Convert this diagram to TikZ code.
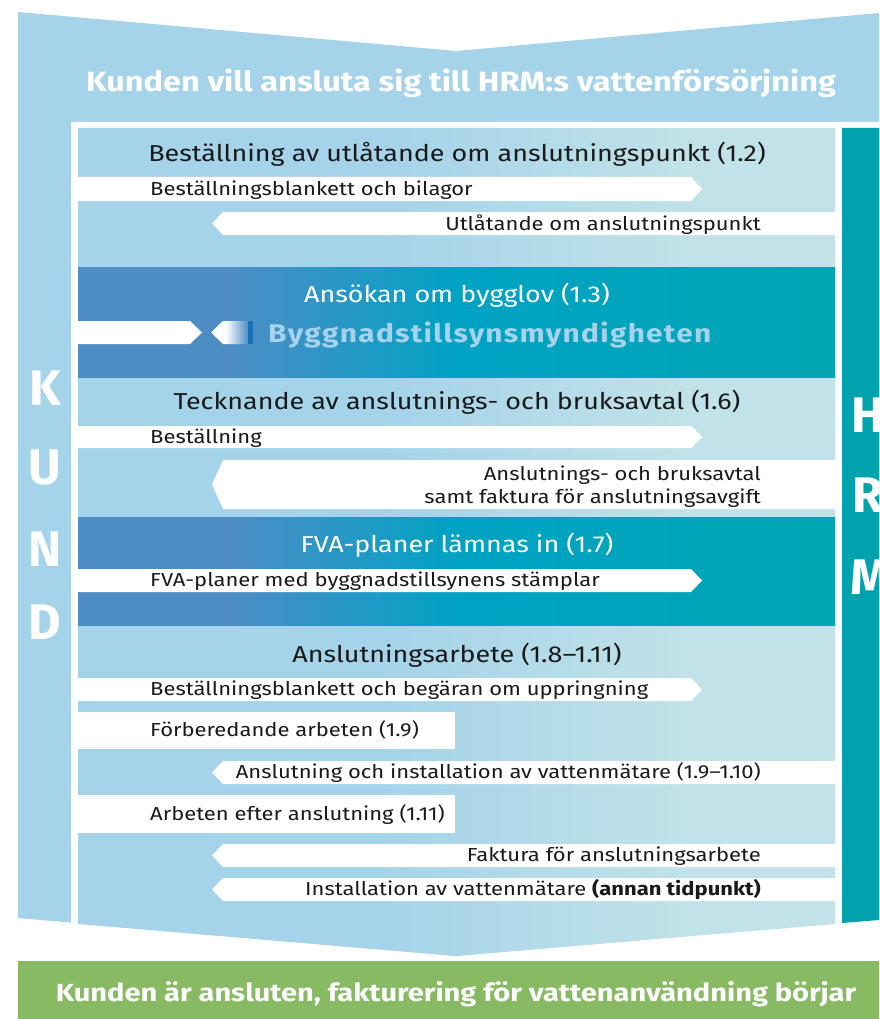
\documentclass[tikz,border=0pt]{standalone}
\usepackage{fontspec}
\setmainfont{Fira Sans}[FakeStretch=1.17]
\newfontfamily\agencyfont{Fira Sans}[LetterSpace=5.0, FakeStretch=1.17]
\newfontfamily\letterfont{Fira Sans}
\usetikzlibrary{positioning}

\definecolor{kundBlue}{HTML}{A5D3EA}
\definecolor{paleCyan}{HTML}{C0E2E8}
\definecolor{deepBlue}{HTML}{4F8DC6}
\definecolor{midTeal}{HTML}{00A2C4}
\definecolor{sectTeal}{HTML}{00A6B3}
\definecolor{hrmTeal}{HTML}{00A2AD}
\definecolor{doneGreen}{HTML}{87BA62}
\definecolor{barBlue}{HTML}{1B6FB2}
\definecolor{agencyBlue}{HTML}{A6D2EC}
\definecolor{titleInk}{HTML}{1A1A1A}

\pgfdeclarehorizontalshading{paleShade}{100bp}{color(0bp)=(kundBlue); color(25bp)=(kundBlue); color(45bp)=(kundBlue); color(65bp)=(paleCyan); color(100bp)=(paleCyan)}
\pgfdeclarehorizontalshading{deepShade}{100bp}{color(0bp)=(deepBlue); color(25bp)=(deepBlue); color(35bp)=(deepBlue); color(50bp)=(midTeal); color(75bp)=(sectTeal); color(100bp)=(sectTeal)}
\pgfdeclarehorizontalshading{fadeShade}{100bp}{color(0bp)=(white); color(45bp)=(white); color(75bp)=(deepBlue); color(100bp)=(deepBlue)}

\tikzstyle{band} = [fill=white]
\tikzstyle{title} = [anchor=base, inner sep=0pt, text=titleInk, font=\fontsize{23}{26}\selectfont]
\tikzstyle{darkTitle} = [title, text=white]
\tikzstyle{msgLeft} = [anchor=base west, inner sep=0pt, text=titleInk, font=\fontsize{18.8}{23}\selectfont]
\tikzstyle{msgRight} = [anchor=base east, inner sep=0pt, text=titleInk, font=\fontsize{18.8}{23}\selectfont]
\tikzstyle{bigLetter} = [inner sep=0pt, text=white, font=\letterfont\fontsize{50}{50}\selectfont\bfseries]
\tikzstyle{banner} = [anchor=base, inner sep=0pt, text=white, font=\fontsize{27.8}{30}\selectfont\bfseries]

\newcommand{\toHRM}[2]{\fill[band] (78,#1) -- (691,#1) -- (702,{(#1+#2)/2}) -- (691,#2) -- (78,#2) -- cycle;}
\newcommand{\toKund}[2]{\fill[band] (835,#1) -- (223,#1) -- (212,{(#1+#2)/2}) -- (223,#2) -- (835,#2) -- cycle;}

\begin{document}
\begin{tikzpicture}[x=1pt,y=-1pt]
\useasboundingbox (0,0) rectangle (879,1019);

% outer chevron, white frame, columns
\fill[kundBlue] (18,12) -- (456,51) -- (879,13) -- (879,919) -- (456,956) -- (18,918) -- cycle;
\fill[white] (71,122) -- (879,122) -- (879,919) -- (456,956) -- (71,922.5) -- cycle;
\shade[shading=paleShade] (78,128) -- (835,128) -- (835,924) -- (456,956) -- (78,924) -- cycle;
\fill[hrmTeal] (842,128) -- (879,128) -- (879,920) -- (842,923) -- cycle;
\shade[shading=deepShade] (78,267) rectangle (835,377);
\shade[shading=deepShade] (78,517) rectangle (835,625);

\node (start) [banner] at (461,92) {Kunden vill ansluta sig till HRM:s vattenförsörjning};

\node (kK) [bigLetter] at (45,388) {K};
\node (kU) [bigLetter] at (45,468) {U};
\node (kN) [bigLetter] at (45,549) {N};
\node (kD) [bigLetter] at (45,622) {D};
\begin{scope}
\clip (842,128) rectangle (879,923);
\node (hH) [bigLetter] at (868,415) {H};
\node (hR) [bigLetter] at (868,495) {R};
\node (hM) [bigLetter] at (870,577) {M};
\end{scope}

% 1.2
\node (pointTitle) [title] at (457,162) {Beställning av utlåtande om anslutningspunkt (1.2)};
\toHRM{177}{201}
\node (pointOrder) [msgLeft] at (150,195.5) {Beställningsblankett och bilagor};
\toKund{212}{235}
\node (pointReply) [msgRight] at (761,230) {Utlåtande om anslutningspunkt};

% 1.3
\node (permitTitle) [darkTitle] at (457,302.5) {Ansökan om bygglov (1.3)};
\fill[band] (78,321) -- (190,321) -- (202,332.5) -- (190,344) -- (78,344) -- cycle;
\shade[shading=fadeShade] (248,321) -- (223,321) -- (211,332.5) -- (223,344) -- (248,344) -- cycle;
\fill[barBlue] (248,321) rectangle (253,344);
\node (agency) [anchor=base west, inner sep=0pt, text=agencyBlue, font=\agencyfont\fontsize{25.5}{27}\selectfont\bfseries] at (268,342) {Byggnadstillsynsmyndigheten};

% 1.6
\node (contractTitle) [title] at (457,409.5) {Tecknande av anslutnings- och bruksavtal (1.6)};
\toHRM{426}{448}
\node (contractOrder) [msgLeft] at (150,443) {Beställning};
\toKund{460}{509}
\node (contractReply) [msgRight] at (761,480) {Anslutnings- och bruksavtal};
\node (contractInvoice) [msgRight] at (761,503) {samt faktura för anslutningsavgift};

% 1.7
\node (planTitle) [darkTitle] at (457,552.5) {FVA-planer lämnas in (1.7)};
\toHRM{569}{592}
\node (planSend) [msgLeft] at (150,586.5) {FVA-planer med byggnadstillsynens stämplar};

% 1.8-1.11
\node (workTitle) [title] at (457,662.5) {Anslutningsarbete (1.8–1.11)};
\toHRM{678}{701}
\node (workOrder) [msgLeft] at (150,695.5) {Beställningsblankett och begäran om uppringning};
\fill[band] (78,712) rectangle (455,749);
\node (prepWork) [msgLeft] at (150,736.5) {Förberedande arbeten (1.9)};
\toKund{761}{784}
\node (meterWork) [msgRight] at (761,778.5) {Anslutning och installation av vattenmätare (1.9–1.10)};
\fill[band] (78,795) rectangle (455,833);
\node (afterWork) [msgLeft] at (150,820) {Arbeten efter anslutning (1.11)};
\toKund{844}{867}
\node (workInvoice) [msgRight] at (761,861.5) {Faktura för anslutningsarbete};
\toKund{878}{901}
\node (meterLater) [msgRight] at (761,895.5) {Installation av vattenmätare \textbf{(annan tidpunkt)}};

% connected
\fill[doneGreen] (18,961) rectangle (879,1019);
\node (done) [banner, font=\fontsize{24.8}{28}\selectfont\bfseries] at (456,1001) {Kunden är ansluten, fakturering för vattenanvändning börjar};
\end{tikzpicture}
\end{document}
